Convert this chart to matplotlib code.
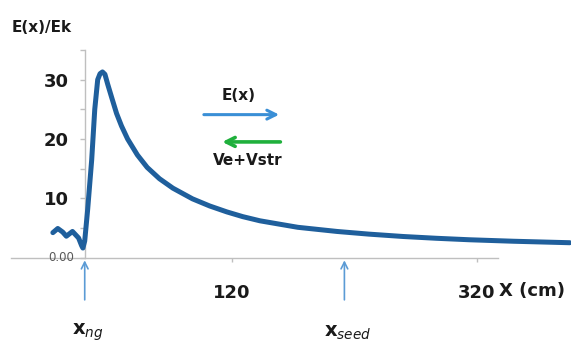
import matplotlib
matplotlib.use("Agg")
import matplotlib.pyplot as plt

# ---------- data ----------------------------------------------------------- #
x_cm = [-26, -22, -18, -15, -10, -5, -2.5, -1.5, 0, 2.4, 5.7, 8.2, 10.6, 12.5,
        14.5, 16.5, 18.8, 22, 26, 30, 35, 43, 51, 61, 72, 88, 102, 116, 129,
        143, 157, 174, 206, 232, 260, 287, 314, 350, 396]
e_ratio = [4.2, 4.9, 4.3, 3.6, 4.4, 3.3, 2.0, 1.6, 2.8, 8.1, 16.5, 25, 30,
           31.0, 31.3, 30.9, 29.2, 27.0, 24.3, 22.2, 20.0, 17.3, 15.2, 13.3,
           11.7, 9.9, 8.7, 7.7, 6.9, 6.2, 5.7, 5.1, 4.4, 3.95, 3.55, 3.25,
           3.0, 2.75, 2.5]

x_ticks = [120, 320]
x_tick_labels = ["120", "320"]
y_ticks = [0, 5, 10, 15, 20, 25, 30, 35]
y_tick_labels = ["", "", "10", "", "20", "", "30", ""]

x_ng = 0
x_seed = 212

TXT = "#1a1a1a"
GRID = "#bfbfbf"

fig = plt.figure(figsize=(5.71, 3.47), dpi=100)
ax = fig.add_axes([10 / 571, 0.5 / 347, 561 / 571, 296.5 / 347])
ax.set_xlim(-61, 397)
ax.set_ylim(-15, 35)

ax.plot(x_cm, e_ratio, color="#1f5f9c", lw=3.6, solid_capstyle="round",
        solid_joinstyle="round", zorder=3)

# axes lines
for side in ("top", "right"):
    ax.spines[side].set_visible(False)
ax.spines["left"].set_position(("data", 0))
ax.spines["left"].set_bounds(0, 35)
ax.spines["bottom"].set_position(("data", 0))
ax.spines["bottom"].set_bounds(-60, 337)
for side in ("left", "bottom"):
    ax.spines[side].set_color(GRID)
    ax.spines[side].set_linewidth(1.0)

ax.set_yticks(y_ticks)
ax.set_yticklabels(y_tick_labels)
ax.set_xticks(x_ticks)
ax.set_xticklabels(x_tick_labels)
ax.tick_params(axis="y", length=3.5, width=1.0, color=GRID, pad=8,
               labelsize=13, labelcolor=TXT)
ax.tick_params(axis="x", length=3, width=1.0, color=GRID, pad=16,
               labelsize=13, labelcolor=TXT)
for lbl in ax.get_xticklabels() + ax.get_yticklabels():
    lbl.set_fontweight("bold")

ax.text(-9, 0, "0.00", fontsize=8.5, color="#595959", ha="right", va="center")

# annotations
ax.text(-60, 38.8, "E(x)/Ek", fontsize=11, fontweight="bold", color=TXT,
        ha="left", va="center", clip_on=False)
ax.text(365, -5.6, "X (cm)", fontsize=13, fontweight="bold", color=TXT,
        ha="center", va="center")

ax.annotate("", xy=(161, 24.1), xytext=(95, 24.1),
            arrowprops=dict(arrowstyle="->", color="#3a8fd6", lw=2.2,
                            mutation_scale=16))
ax.text(126, 27.3, "E(x)", fontsize=11, fontweight="bold", color=TXT,
        ha="center", va="center")
ax.annotate("", xy=(110, 19.5), xytext=(162, 19.5),
            arrowprops=dict(arrowstyle="->", color="#1fb03c", lw=2.6,
                            mutation_scale=16))
ax.text(133, 16.4, "Ve+Vstr", fontsize=11, fontweight="bold", color=TXT,
        ha="center", va="center")

for xpos in (x_ng, x_seed):
    ax.annotate("", xy=(xpos, 0), xytext=(xpos, -7.6),
                arrowprops=dict(arrowstyle="->", color="#5b9bd5", lw=1.2,
                                mutation_scale=12))
ax.text(-10, -12.6, r"$\mathbf{x}_{ng}$", fontsize=14, color=TXT,
        ha="left", va="center")
ax.text(195, -12.6, r"$\mathbf{x}_{seed}$", fontsize=14, color=TXT,
        ha="left", va="center")

fig.savefig("out.png", dpi=100)
